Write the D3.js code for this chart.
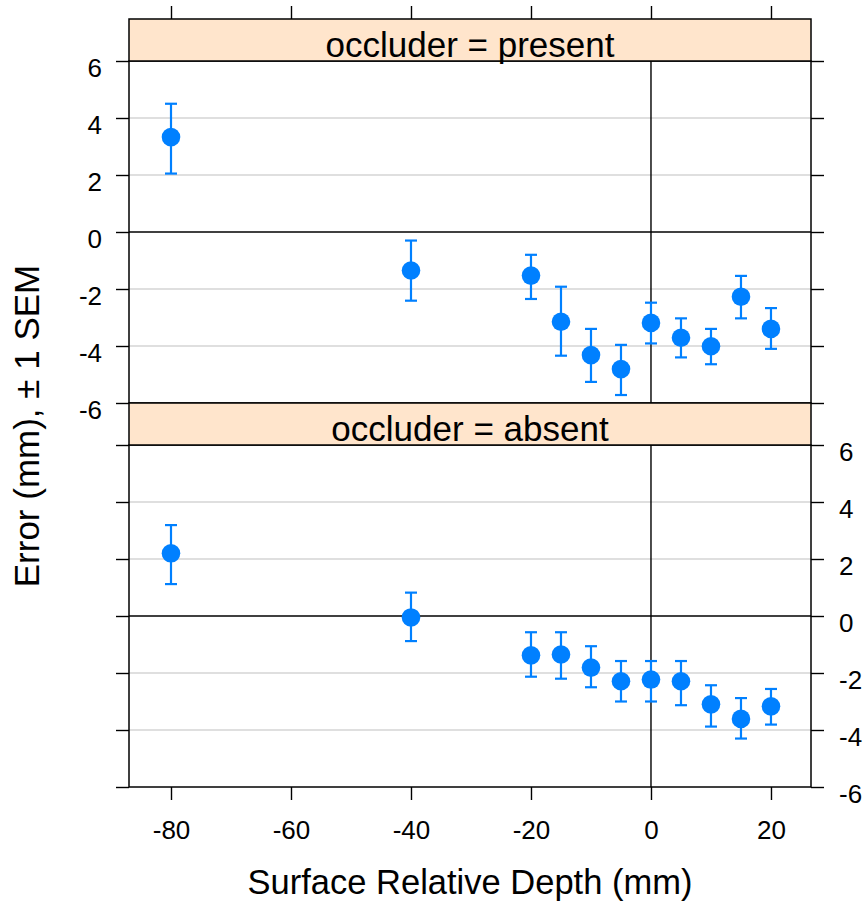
<!DOCTYPE html>
<html>
<head>
    <meta charset="utf-8">
    <title>Error by surface relative depth</title>
    <style>
        body { margin: 0; background: #fff; }
        svg text { font-family: "Liberation Sans", Arial, sans-serif; fill: #000; }
    </style>
</head>
<body>
<div id="chart"></div>
<script src="https://d3js.org/d3.v7.min.js"></script>
<script>
    // data
    var depth = [-80, -40, -20, -15, -10, -5, 0, 5, 10, 15, 20];
    var panels = ['occluder = present', 'occluder = absent'];

    var presentMean = [3.33, -1.35, -1.53, -3.15, -4.32, -4.81, -3.19, -3.71, -4.01, -2.27, -3.40];
    var presentLo = [2.05, -2.41, -2.35, -4.34, -5.26, -5.72, -3.91, -4.40, -4.64, -3.03, -4.10];
    var presentHi = [4.50, -0.30, -0.80, -1.92, -3.40, -3.96, -2.48, -3.03, -3.40, -1.54, -2.67];

    var absentMean = [2.20, -0.05, -1.38, -1.35, -1.81, -2.29, -2.23, -2.29, -3.10, -3.61, -3.17];
    var absentLo = [1.12, -0.88, -2.13, -2.20, -2.50, -3.00, -3.00, -3.13, -3.88, -4.30, -3.81];
    var absentHi = [3.19, 0.82, -0.57, -0.57, -1.06, -1.58, -1.58, -1.58, -2.43, -2.88, -2.56];

    var xTicks = [-80, -60, -40, -20, 0, 20];
    var yTicks = [-6, -4, -2, 0, 2, 4, 6];
    var yGrid = [-4, -2, 2, 4];

    var series = [
        { mean: presentMean, lo: presentLo, hi: presentHi },
        { mean: absentMean, lo: absentLo, hi: absentHi }
    ];

    var width = 866, height = 906;
    var left = 129, right = 811;
    var stripH = 42;
    // top of each strip and panel
    var stripTop = [19, 403];
    var panelTop = [61, 445];
    var panelBot = [403, 787];

    // plain hyphen minus, like the original
    var fmt = function (d) { return String(d); };

    var svg = d3.select('#chart').append('svg')
        .attr('width', width)
        .attr('height', height);

    var x = d3.scaleLinear().domain([-87, 26.67]).range([left, right]);

    var blue = '#0080ff';

    panels.forEach(function (name, p) {
        var y = d3.scaleLinear().domain([-6, 6]).range([panelBot[p], panelTop[p]]);
        var g = svg.append('g');
        var s = series[p];

        // light grid lines
        g.selectAll('.grid')
            .data(yGrid)
            .enter().append('line')
            .attr('x1', left).attr('x2', right)
            .attr('y1', function (d) { return y(d); })
            .attr('y2', function (d) { return y(d); })
            .attr('stroke', '#d4d4d4')
            .attr('stroke-width', 1.5);

        // reference lines at zero
        g.append('line')
            .attr('x1', left).attr('x2', right)
            .attr('y1', y(0)).attr('y2', y(0))
            .attr('stroke', '#000').attr('stroke-width', 1.4);
        g.append('line')
            .attr('x1', x(0)).attr('x2', x(0))
            .attr('y1', panelTop[p]).attr('y2', panelBot[p])
            .attr('stroke', '#000').attr('stroke-width', 1.4);

        // y ticks on both sides (labels drawn by hand below)
        var yl = d3.axisLeft(y).tickValues(yTicks).tickSize(13).tickFormat('');
        var yr = d3.axisRight(y).tickValues(yTicks).tickSize(13).tickFormat('');
        var axL = g.append('g').attr('transform', 'translate(' + left + ',0)').call(yl);
        var axR = g.append('g').attr('transform', 'translate(' + right + ',0)').call(yr);
        [axL, axR].forEach(function (a) {
            a.select('.domain').remove();
            a.selectAll('text').remove();
            a.selectAll('line').attr('stroke', '#000').attr('stroke-width', 1.4);
        });

        // tick labels alternate: left on the top panel, right on the bottom one
        g.selectAll('.ylab')
            .data(yTicks)
            .enter().append('text')
            .attr('x', p === 0 ? left - 27 : right + 28)
            .attr('y', function (d) { return y(d) + 7; })
            .attr('text-anchor', p === 0 ? 'end' : 'start')
            .attr('dominant-baseline', 'central')
            .style('font-size', '26px')
            .text(fmt);

        // error bars
        var bars = g.selectAll('.bar')
            .data(depth)
            .enter().append('g')
            .attr('stroke', blue)
            .attr('stroke-width', 2.2);
        bars.append('line')
            .attr('x1', function (d) { return x(d); })
            .attr('x2', function (d) { return x(d); })
            .attr('y1', function (d, i) { return y(s.lo[i]); })
            .attr('y2', function (d, i) { return y(s.hi[i]); });
        bars.append('line')
            .attr('x1', function (d) { return x(d) - 6; })
            .attr('x2', function (d) { return x(d) + 6; })
            .attr('y1', function (d, i) { return y(s.lo[i]); })
            .attr('y2', function (d, i) { return y(s.lo[i]); });
        bars.append('line')
            .attr('x1', function (d) { return x(d) - 6; })
            .attr('x2', function (d) { return x(d) + 6; })
            .attr('y1', function (d, i) { return y(s.hi[i]); })
            .attr('y2', function (d, i) { return y(s.hi[i]); });

        // points
        g.selectAll('.pt')
            .data(depth)
            .enter().append('circle')
            .attr('cx', function (d) { return x(d); })
            .attr('cy', function (d, i) { return y(s.mean[i]); })
            .attr('r', 9.3)
            .attr('fill', blue);

        // panel border
        g.append('rect')
            .attr('x', left).attr('y', panelTop[p])
            .attr('width', right - left).attr('height', panelBot[p] - panelTop[p])
            .attr('fill', 'none').attr('stroke', '#000').attr('stroke-width', 1.5);

        // strip
        g.append('rect')
            .attr('x', left).attr('y', stripTop[p])
            .attr('width', right - left).attr('height', stripH)
            .attr('fill', '#ffe5cc').attr('stroke', '#000').attr('stroke-width', 1.5);
        g.append('text')
            .attr('x', (left + right) / 2)
            .attr('y', stripTop[p] + 38)
            .attr('text-anchor', 'middle')
            .style('font-size', '35px')
            .text(name);
    });

    // x axes: ticks on top of the top strip, ticks + labels on the bottom
    var xt = d3.axisTop(x).tickValues(xTicks).tickSize(13).tickFormat('');
    var xb = d3.axisBottom(x).tickValues(xTicks).tickSize(13).tickFormat(fmt);
    var at = svg.append('g').attr('transform', 'translate(0,' + stripTop[0] + ')').call(xt);
    var ab = svg.append('g').attr('transform', 'translate(0,' + panelBot[1] + ')').call(xb);
    [at, ab].forEach(function (a) {
        a.select('.domain').remove();
        a.selectAll('line').attr('stroke', '#000').attr('stroke-width', 1.4);
        a.selectAll('text').style('font-size', '26px');
    });
    ab.selectAll('text').attr('dy', null).attr('y', 43).attr('dominant-baseline', 'central');

    // axis titles
    svg.append('text')
        .attr('x', (left + right) / 2)
        .attr('y', 894)
        .attr('text-anchor', 'middle')
        .style('font-size', '34.5px')
        .text('Surface Relative Depth (mm)');
    svg.append('text')
        .attr('transform', 'translate(39,426) rotate(-90)')
        .attr('text-anchor', 'middle')
        .style('font-size', '35px')
        .text('Error (mm), \u00b1 1 SEM');
</script>
</body>
</html>
